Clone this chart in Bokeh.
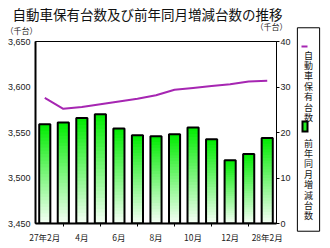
from bokeh.plotting import figure
from bokeh.models import (Range1d, LinearAxis, FixedTicker, NumeralTickFormatter,
                          ColumnDataSource)
from bokeh.core.properties import value
from bokeh.embed import file_html
from bokeh.resources import INLINE
import numpy as np

# ---- data ----
months = ["27年2月", "3月", "4月", "5月", "6月", "7月", "8月", "9月",
          "10月", "11月", "12月", "28年1月", "28年2月"]
holdings = [3588, 3576, 3578, 3581, 3584, 3587, 3591, 3597, 3599, 3601, 3603, 3606, 3607]
change = [21.8, 22.2, 23.2, 24.0, 20.9, 19.4, 19.2, 19.6, 21.1, 18.5, 13.9, 15.3, 18.8]
left_ticks = [3450, 3500, 3550, 3600, 3650]
right_ticks = [0, 10, 20, 30, 40]
title_text = "自動車保有台数及び前年同月増減台数の推移"
unit_text = "（千台）"
series_names = ["自動車保有台数", "前年同月増減台数"]

FONT = "Noto Sans CJK JP"
LINE_COLOR = "#a626b2"

W, H = 330, 248
ML, MR, MT, MB = 35, 54, 41, 25
FR = W - MR   # frame right (canvas px)
FB = H - MB   # frame bottom (canvas px)

p = figure(width=W, height=H, x_range=Range1d(0, len(months)),
           y_range=Range1d(left_ticks[0], left_ticks[-1]),
           output_backend="svg", toolbar_location=None,
           min_border_left=ML, min_border_right=MR, min_border_top=MT, min_border_bottom=MB)
p.title.visible = False
# canvas-pixel coordinate system (y measured upward from canvas bottom)
p.extra_y_ranges = {"r": Range1d(right_ticks[0], right_ticks[-1]),
                    "cy": Range1d(MB, H - MT)}
p.extra_x_ranges = {"cx": Range1d(ML, FR)}
p.grid.visible = False
p.outline_line_color = "black"
p.outline_line_width = 1

x = np.arange(len(months)) + 0.5

# ---- gradient bars (right axis) ----
N = 30
top_rgb = np.array([0, 236, 0])
bot_rgb = np.array([246, 255, 246])
xs, bots, tops, cols = [], [], [], []
for xi, v in zip(x, change):
    for k in range(N):
        f = (k + 0.5) / N
        c = bot_rgb + (top_rgb - bot_rgb) * f
        xs.append(xi)
        bots.append(v * k / N)
        tops.append(v)
        cols.append("#%02x%02x%02x" % tuple(int(round(t)) for t in c))
src = ColumnDataSource(dict(x=xs, bottom=bots, top=tops, color=cols))
p.vbar(x="x", bottom="bottom", top="top", width=0.6, fill_color="color",
       line_color=None, source=src, y_range_name="r")
p.vbar(x=x, top=change, bottom=0, width=0.6, fill_color=None,
       line_color="black", line_width=2, y_range_name="r")

# ---- line (left axis) ----
p.line(x, holdings, line_color=LINE_COLOR, line_width=2)

# ---- axes ----
ya = p.yaxis[0]
ya.ticker = FixedTicker(ticks=left_ticks)
ya.formatter = NumeralTickFormatter(format="0,0")
ya.major_tick_out = 0
ya.major_tick_in = 0
ya.minor_tick_out = 0
ya.minor_tick_in = 0
ya.axis_line_width = 2
ya.major_label_text_font = "Liberation Sans"
ya.major_label_text_font_size = "9px"
ya.major_label_text_color = "#222222"
ya.major_label_standoff = 5

ra = LinearAxis(y_range_name="r", ticker=FixedTicker(ticks=right_ticks))
ra.major_tick_out = 3
ra.major_tick_in = 0
ra.minor_tick_out = 0
ra.minor_tick_in = 0
ra.axis_line_width = 1
ra.major_label_text_font = "Liberation Sans"
ra.major_label_text_font_size = "9px"
ra.major_label_text_color = "#222222"
ra.major_label_standoff = 1
p.add_layout(ra, "right")

xa = p.xaxis[0]
major = [float(v) for v in x[::2]]
minor = [float(v) for v in x[1::2]]
xa.ticker = FixedTicker(ticks=major, minor_ticks=minor)
xa.major_label_overrides = {float(v): months[i] for i, v in enumerate(x) if i % 2 == 0}
xa.major_tick_out = 0
xa.major_tick_in = 0
xa.minor_tick_out = 3
xa.minor_tick_in = 0
xa.axis_line_width = 2
xa.major_label_text_font = FONT
xa.major_label_text_font_size = "8.5px"
xa.major_label_text_color = "#222222"
xa.major_label_standoff = 4

# ---- texts and legend outside the frame (overlay level, canvas-pixel ranges) ----
kw = dict(x_range_name="cx", y_range_name="cy", level="overlay")


def Y(cy):
    """canvas y (downward) -> upward pixel coordinate"""
    return H - cy


p.text(x=[147], y=[Y(13)], text=[title_text], text_font=value(FONT), text_font_size="13.5px",
       text_align="center", text_baseline="middle", text_color="#111111", **kw)
p.text(x=[21, 271], y=[Y(30), Y(26)], text=[unit_text, unit_text], text_font=value(FONT),
       text_font_size="8px", text_align="center", text_baseline="middle",
       text_color="#222222", **kw)

# legend box: an (almost) empty text box with a border, sized by padding
bx0, bx1, by0, by1 = 297, 319, 28, 230
try:
    p.text(x=[(bx0 + bx1) / 2], y=[Y((by0 + by1) / 2)], text=[" "],
           text_font=value(FONT), text_font_size="1px",
           text_align="center", text_baseline="middle", text_color="white",
           padding=dict(left=(bx1 - bx0) // 2, right=(bx1 - bx0) // 2,
                        top=(by1 - by0) // 2, bottom=(by1 - by0) // 2),
           border_line_color="black", border_line_width=1,
           background_fill_color="white", **kw)
except Exception:
    pass

# line-series key
p.line(x=[301, 307], y=[Y(46), Y(46)], line_color=LINE_COLOR, line_width=2, **kw)
# bar-series key (black frame + green inside)
p.line(x=[304.5, 304.5], y=[Y(120), Y(132)], line_color="black", line_width=7,
       line_cap="butt", **kw)
p.line(x=[304.5, 304.5], y=[Y(122), Y(130)], line_color="#22ee22", line_width=3,
       line_cap="butt", **kw)
p.text(x=[308, 308], y=[Y(48), Y(136)], text=["\n".join(s) for s in series_names],
       text_font=value(FONT), text_font_size="9px", text_line_height=0.8,
       text_align="center", text_baseline="top", text_color="#111111", **kw)

open("out.html", "w").write(file_html(p, INLINE))
